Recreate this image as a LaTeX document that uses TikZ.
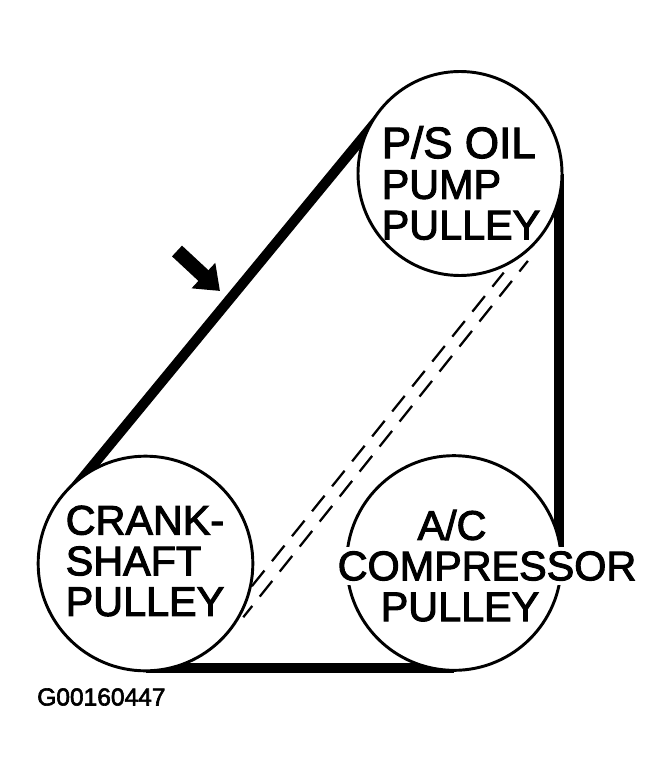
\documentclass[tikz,border=0pt]{standalone}
\usepackage{fontspec}
\setmainfont{Liberation Sans}
\newfontfamily\pulleyfont{Liberation Sans}[FakeBold=2.5]
\usetikzlibrary{arrows.meta,calc}
\begin{document}
\begin{tikzpicture}[x=0.75pt,y=-0.75pt]
\tikzstyle{pulley}=[circle,draw,fill=white,line width=2.2pt,inner sep=0pt]
\tikzstyle{pulleytext}=[font=\pulleyfont\fontsize{31}{30.5}\selectfont,inner sep=0pt]
\tikzstyle{belt}=[line width=7.5pt]
\tikzstyle{slack}=[line width=1.7pt,dash pattern=on 15pt off 9pt]
\useasboundingbox (0,0) rectangle (671,781);
\coordinate (psspot) at (460,173.5);
\coordinate (crankspot) at (145.5,563.5);
\coordinate (acspot) at (454,563);
\coordinate (tail) at (177,251);
\coordinate (tip) at (220,291);
% belts go first, the pulleys cover their ends
\draw[belt] ($(crankspot)+(-79,-66)$) -- ($(psspot)+(-75,-63)$);
\draw[belt] ($(psspot)+(98.5,0)$) -- ($(acspot)+(104.5,0)$);
\draw[belt] ($(crankspot)+(0,104.5)$) -- ($(acspot)+(0,105)$);
\node[pulley,minimum size=153pt] (ps) at (psspot) {};
\node[pulley,minimum size=161pt] (crank) at (crankspot) {};
\node[pulley,minimum size=161pt] (ac) at (acspot) {};
\node[pulleytext,align=left] (pstext) at (461,183) {{\fontsize{33}{30.5}\selectfont P/S OIL}\\PUMP\\PULLEY};
\node[pulleytext,align=left] (cranktext) at (145,561) {CRANK-\\SHAFT\\PULLEY};
\node[pulleytext] (actop) at (452,525) {A/C};
\node[pulleytext,fill=white,inner xsep=2pt,inner ysep=3pt] (acmid) at (487,566) {COMPRESSOR};
\node[pulleytext] (acbot) at (460,607) {PULLEY};
\node[anchor=west,inner sep=0pt,font=\pulleyfont\fontsize{18.4}{18}\selectfont] (code) at (37,697) {G00160447};
\draw[-{Triangle[length=17pt,width=25pt]},line width=11pt] (tail) -- (tip);
\draw[slack] (crank.-12) -- ([yshift=-4pt]ps.-65);
\draw[slack,dash phase=4.2pt] ([yshift=-4.5pt]crank.-26) -- ([yshift=-7pt]ps.-49);
\end{tikzpicture}
\end{document}
